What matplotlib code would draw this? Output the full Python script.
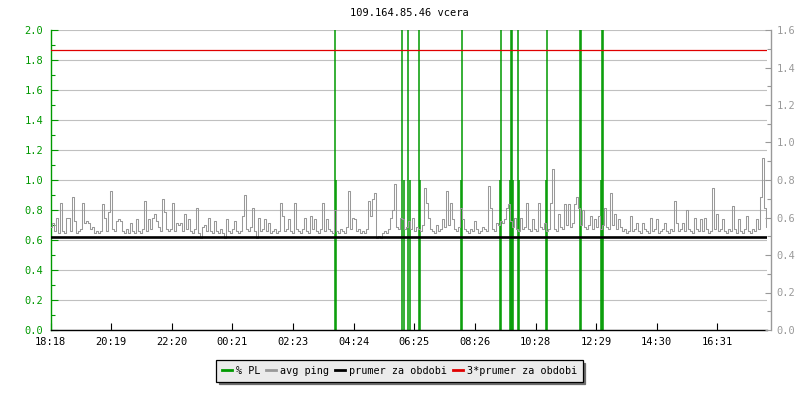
import matplotlib
matplotlib.use("Agg")
import matplotlib.pyplot as plt
from matplotlib.ticker import MultipleLocator, FormatStrFormatter
from matplotlib.lines import Line2D

plt.rcParams['font.family'] = ['DejaVu Sans Mono']

title = "109.164.85.46 vcera"
start_label = "18:18"
tick_labels = ["18:18", "20:19", "22:20", "00:21", "02:23", "04:24",
               "06:25", "08:26", "10:28", "12:29", "14:30", "16:31"]
sample_step_min = 4
period_min = 1432

# avg ping (right axis), one sample every 4 minutes from 18:18
ping_values = [
    0.55, 0.57, 0.53, 0.60, 0.52, 0.68, 0.53, 0.52, 0.60, 0.60,
    0.53, 0.71, 0.58, 0.52, 0.53, 0.54, 0.68, 0.57, 0.58, 0.57,
    0.54, 0.55, 0.52, 0.53, 0.52, 0.53, 0.67, 0.60, 0.53, 0.63,
    0.74, 0.54, 0.53, 0.58, 0.59, 0.58, 0.53, 0.52, 0.54, 0.52,
    0.57, 0.53, 0.52, 0.59, 0.53, 0.52, 0.54, 0.69, 0.53, 0.59,
    0.54, 0.60, 0.62, 0.58, 0.55, 0.53, 0.70, 0.63, 0.54, 0.53,
    0.54, 0.68, 0.53, 0.57, 0.56, 0.57, 0.53, 0.62, 0.54, 0.59,
    0.53, 0.52, 0.54, 0.65, 0.52, 0.49, 0.55, 0.56, 0.53, 0.60,
    0.53, 0.52, 0.58, 0.53, 0.52, 0.54, 0.52, 0.49, 0.59, 0.53,
    0.52, 0.54, 0.58, 0.53, 0.52, 0.53, 0.61, 0.72, 0.54, 0.53,
    0.55, 0.65, 0.53, 0.49, 0.60, 0.53, 0.54, 0.59, 0.53, 0.57,
    0.52, 0.53, 0.54, 0.52, 0.53, 0.68, 0.61, 0.53, 0.54, 0.59,
    0.53, 0.52, 0.68, 0.54, 0.53, 0.52, 0.54, 0.60, 0.53, 0.52,
    0.61, 0.54, 0.59, 0.53, 0.52, 0.54, 0.68, 0.53, 0.59, 0.54,
    0.53, 0.52, 0.64, 0.53, 0.52, 0.54, 0.53, 0.52, 0.55, 0.74,
    0.54, 0.60, 0.59, 0.53, 0.54, 0.52, 0.53, 0.52, 0.54, 0.69,
    0.61, 0.70, 0.73, 0.49, 0.50, 0.49, 0.52, 0.53, 0.52, 0.54,
    0.60, 0.64, 0.78, 0.55, 0.54, 0.60, 0.59, 0.54, 0.55, 0.58,
    0.54, 0.60, 0.53, 0.55, 0.54, 0.53, 0.56, 0.76, 0.68, 0.60,
    0.54, 0.53, 0.52, 0.56, 0.53, 0.54, 0.59, 0.55, 0.74, 0.56,
    0.68, 0.59, 0.54, 0.53, 0.55, 0.65, 0.59, 0.54, 0.53, 0.52,
    0.54, 0.53, 0.58, 0.54, 0.52, 0.53, 0.55, 0.54, 0.53, 0.77,
    0.65, 0.54, 0.53, 0.57, 0.56, 0.58, 0.57, 0.59, 0.65, 0.67,
    0.58, 0.55, 0.60, 0.54, 0.53, 0.60, 0.54, 0.55, 0.68, 0.54,
    0.53, 0.59, 0.54, 0.53, 0.68, 0.55, 0.54, 0.57, 0.53, 0.54,
    0.68, 0.86, 0.54, 0.53, 0.62, 0.55, 0.54, 0.67, 0.56, 0.67,
    0.55, 0.57, 0.67, 0.71, 0.65, 0.56, 0.64, 0.55, 0.54, 0.56,
    0.61, 0.54, 0.59, 0.55, 0.61, 0.54, 0.56, 0.65, 0.55, 0.54,
    0.73, 0.56, 0.62, 0.54, 0.59, 0.55, 0.53, 0.54, 0.52, 0.53,
    0.61, 0.53, 0.54, 0.57, 0.53, 0.52, 0.57, 0.54, 0.53, 0.52,
    0.60, 0.53, 0.54, 0.59, 0.52, 0.53, 0.54, 0.57, 0.53, 0.52,
    0.54, 0.53, 0.69, 0.57, 0.53, 0.54, 0.57, 0.53, 0.64, 0.54,
    0.53, 0.52, 0.60, 0.54, 0.53, 0.59, 0.53, 0.60, 0.54, 0.52,
    0.53, 0.76, 0.54, 0.62, 0.53, 0.54, 0.59, 0.53, 0.52, 0.54,
    0.53, 0.66, 0.54, 0.52, 0.59, 0.53, 0.52, 0.54, 0.61, 0.53,
    0.52, 0.54, 0.53, 0.59, 0.54, 0.71, 0.92, 0.65, 0.55,
]

# packet loss events (minutes since 18:18, % PL; left axis)
pl_times = [569, 571, 703, 706, 715, 718, 737, 739, 823, 821,
            900, 899, 920, 918, 923, 925, 934, 936, 993, 991,
            1058, 1060, 1102, 1105, 1100]
pl_values = [100, 1.0, 100, 1.0, 100, 1.0, 100, 1.0, 100, 1.0,
             100, 1.0, 100, 1.0, 100, 1.0, 100, 1.0, 100, 1.0,
             100, 100, 100, 100, 1.0]

mean_ping = 0.498

legend_labels = ["% PL", "avg ping", "prumer za obdobi", "3*prumer za obdobi"]
c_pl = "#009a00"
c_ping = "#999999"
c_mean = "#000000"
c_red = "#e00000"


def to_min(label):
    h, m = map(int, label.split(":"))
    sh, sm = map(int, start_label.split(":"))
    return ((h * 60 + m) - (sh * 60 + sm)) % 1440


ping_times = [i * sample_step_min for i in range(len(ping_values))]
tick_pos = [to_min(t) for t in tick_labels]

W, H = 800, 400
fig = plt.figure(figsize=(8, 4), dpi=100)
ax1 = fig.add_axes([50.7 / W, 70 / H, (766.7 - 50.7) / W, 300 / H])
ax2 = ax1.twinx()

fs = 7.5
ax1.set_xlim(0, period_min)
ax1.set_ylim(0, 2.0)
ax2.set_ylim(0, 1.6)

ax1.set_axisbelow(True)
ax1.yaxis.set_major_locator(MultipleLocator(0.2))
ax1.yaxis.set_minor_locator(MultipleLocator(0.1))
ax1.yaxis.set_major_formatter(FormatStrFormatter('%.1f'))
ax2.yaxis.set_major_locator(MultipleLocator(0.2))
ax2.yaxis.set_minor_locator(MultipleLocator(0.1))
ax2.yaxis.set_major_formatter(FormatStrFormatter('%.1f'))
ax1.grid(axis='y', which='major', color='#c0c0c0', lw=0.8)

ax1.set_xticks(tick_pos, tick_labels)
ax1.tick_params(axis='x', direction='in', length=5, width=0.8, pad=5,
                labelsize=fs, colors='black')
ax1.tick_params(axis='y', which='major', direction='in', length=5, width=0.8,
                pad=5.5, labelsize=fs, colors='#009900')
ax1.tick_params(axis='y', which='minor', direction='in', length=3, width=0.8,
                colors='#009900')
ax2.tick_params(axis='y', which='major', direction='in', length=4, width=0.8,
                pad=4, labelsize=fs, colors='#999999')
ax2.tick_params(axis='y', which='minor', direction='in', length=3, width=0.8,
                colors='#999999')

for s in ['top', 'right']:
    ax1.spines[s].set_visible(False)
ax1.spines['left'].set_color('#009900')
ax1.spines['bottom'].set_color('black')
for s in ['top', 'left', 'bottom']:
    ax2.spines[s].set_visible(False)
ax2.spines['right'].set_color('#999999')
ax2.spines['right'].set_position(('outward', 3))
for s in ax1.spines.values():
    s.set_linewidth(1.0)
ax2.spines['right'].set_linewidth(1.0)

ax1.vlines(pl_times, 0, pl_values, colors=c_pl, lw=1.1)
ax2.plot(ping_times, ping_values, color=c_ping, lw=0.75, drawstyle='steps-mid')
ax2.axhline(mean_ping, color=c_mean, lw=1.9)
ax2.axhline(3 * mean_ping, color=c_red, lw=0.9)

fig.text(409.5 / W, 1 - 13.5 / H, title, ha='center', va='center', fontsize=fs)

handles = [Line2D([], [], color=c, lw=2) for c in [c_pl, c_ping, c_mean, c_red]]
leg = fig.legend(handles, legend_labels, loc='center', ncol=4,
                 bbox_to_anchor=(399.5 / W, 1 - 371 / H), fontsize=7.3,
                 handlelength=1.0, handletextpad=0.4, columnspacing=0.55,
                 borderpad=0.55, fancybox=False, framealpha=1,
                 facecolor='#ebebeb', edgecolor='black',
                 shadow={'facecolor': '#6e6e6e', 'edgecolor': '#6e6e6e', 'alpha': 1})
leg.get_frame().set_linewidth(0.9)

fig.savefig("out.png", dpi=100)
